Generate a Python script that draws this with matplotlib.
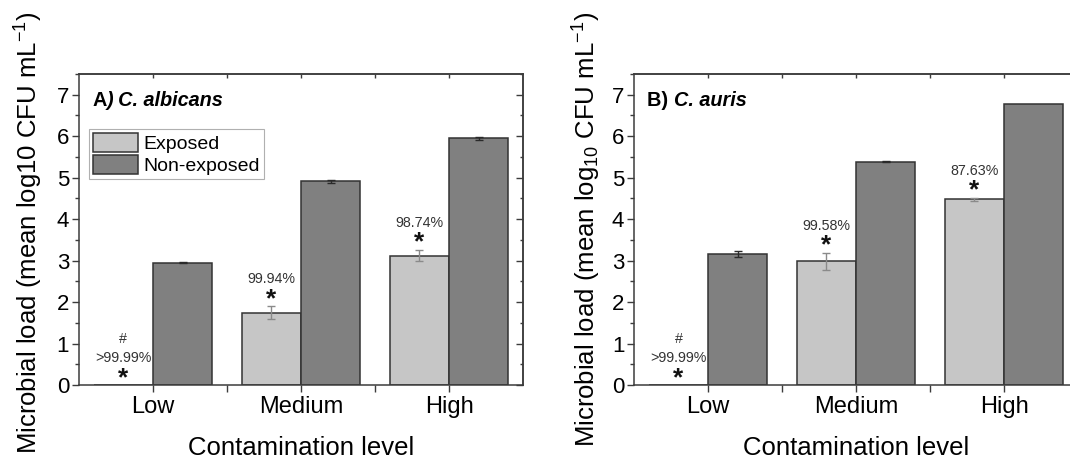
import matplotlib
matplotlib.use("Agg")
import matplotlib.pyplot as plt
import numpy as np
from matplotlib.ticker import AutoMinorLocator
from matplotlib.offsetbox import TextArea, HPacker, AnchoredOffsetbox

plt.rcParams['font.family'] = ['Liberation Sans', 'DejaVu Sans']
plt.rcParams['mathtext.fontset'] = 'custom'
plt.rcParams['mathtext.rm'] = 'Liberation Sans'
plt.rcParams['mathtext.it'] = 'Liberation Sans:italic'
plt.rcParams['mathtext.bf'] = 'Liberation Sans:bold'

# ===== data =====
levels = ["Low", "Medium", "High"]
series_names = ["Exposed", "Non-exposed"]

albicans_exposed = [0.0, 1.74, 3.12]
albicans_exposed_err = [0.0, 0.16, 0.14]
albicans_nonexp = [2.95, 4.91, 5.95]
albicans_nonexp_err = [0.01, 0.03, 0.04]
albicans_pct = [">99.99%", "99.94%", "98.74%"]
albicans_hash = [True, False, False]

auris_exposed = [0.0, 2.98, 4.48]
auris_exposed_err = [0.0, 0.21, 0.04]
auris_nonexp = [3.16, 5.38, 6.78]
auris_nonexp_err = [0.08, 0.01, 0.0]
auris_pct = [">99.99%", "99.58%", "87.63%"]
auris_hash = [True, False, False]

# ===== style =====
C_EXP = "#c6c6c6"
C_NON = "#808080"
EDGE = "#333333"
SPINE = "#3c3c3c"
BAR_W = 0.4
PX = 72 / 100  # points per pixel at dpi 100


def draw_panel(ax, exposed, exp_err, nonexp, non_err, pct, hashes,
               title_parts, ylabel, ylab_pos, legend=False):
    x = np.arange(len(levels))
    b1 = ax.bar(x - BAR_W / 2, exposed, BAR_W, color=C_EXP, edgecolor=EDGE,
                linewidth=1.1, label=series_names[0], zorder=2)
    b2 = ax.bar(x + BAR_W / 2, nonexp, BAR_W, color=C_NON, edgecolor=EDGE,
                linewidth=1.1, label=series_names[1], zorder=2)

    e = np.array(exp_err)
    m = e > 0
    ax.errorbar((x - BAR_W / 2)[m], np.array(exposed)[m], yerr=e[m], fmt="none",
                ecolor="#8a8a8a", elinewidth=1, capsize=3, capthick=1, zorder=3)
    e = np.array(non_err)
    m = e > 0
    ax.errorbar((x + BAR_W / 2)[m], np.array(nonexp)[m], yerr=e[m], fmt="none",
                ecolor="#2a2a2a", elinewidth=1, capsize=3, capthick=1, zorder=3)

    # significance marks above exposed bars
    for i in range(len(levels)):
        top = exposed[i] + exp_err[i]
        xi = x[i] - BAR_W / 2
        ax.annotate("*", (xi, top), xytext=(0, 0), textcoords="offset points",
                    ha="center", va="baseline", fontsize=19, fontweight="bold",
                    color="#111111")
        ax.annotate(pct[i], (xi, top), xytext=(0, 23 * PX), textcoords="offset points",
                    ha="center", va="baseline", fontsize=10.3, color="#333333")
        if hashes[i]:
            ax.annotate("#", (xi, top), xytext=(0, 42 * PX), textcoords="offset points",
                        ha="center", va="baseline", fontsize=10.3, color="#333333")

    ax.set_xlim(-0.5, len(levels) - 0.5)
    ax.set_ylim(0, 7.5)
    ax.set_xticks(x)
    ax.set_xticklabels(levels, fontsize=17)
    ax.set_xticks([0.5, 1.5], minor=True)
    ax.set_yticks(range(0, 8))
    ax.yaxis.set_minor_locator(AutoMinorLocator(2))
    ax.tick_params(axis="y", labelsize=16)
    ax.tick_params(which="major", direction="out", length=5, width=1, color=SPINE, pad=2)
    ax.tick_params(which="minor", direction="out", length=3, width=1, color=SPINE)
    ax.tick_params(axis="x", which="both", length=5, pad=3)

    for s in ax.spines.values():
        s.set_color(SPINE)
        s.set_linewidth(1.1)

    top_ax = ax.secondary_xaxis("top")
    top_ax.set_xticks(x)
    top_ax.set_xticks([0.5, 1.5], minor=True)
    top_ax.tick_params(which="both", direction="in", length=3, width=1,
                       color=SPINE, labeltop=False)
    top_ax.spines["top"].set_color(SPINE)
    top_ax.spines["top"].set_linewidth(1.1)
    right_ax = ax.secondary_yaxis("right")
    right_ax.set_yticks(range(0, 8))
    right_ax.yaxis.set_minor_locator(AutoMinorLocator(2))
    right_ax.tick_params(which="major", direction="in", length=5, width=1,
                         color=SPINE, labelright=False)
    right_ax.tick_params(which="minor", direction="in", length=2.5, width=1,
                         color=SPINE)
    right_ax.spines["right"].set_color(SPINE)
    right_ax.spines["right"].set_linewidth(1.1)

    ax.set_xlabel("Contamination level", fontsize=18.5)
    ax.xaxis.set_label_coords(0.5, -0.164)
    ax.set_ylabel(ylabel, fontsize=18.5)
    ax.yaxis.set_label_coords(*ylab_pos)

    parts = [TextArea(t, textprops=dict(fontsize=14.3, fontweight="bold",
                                        fontstyle="italic" if it else "normal"))
             for t, it in title_parts]
    box = HPacker(children=parts, align="baseline", pad=0, sep=0)
    anch = AnchoredOffsetbox(loc="center left", child=box, pad=0, borderpad=0,
                             frameon=False, bbox_to_anchor=(0.03, 0.916),
                             bbox_transform=ax.transAxes)
    ax.add_artist(anch)

    if legend:
        leg = ax.legend(handles=[b1, b2], loc="upper left",
                        bbox_to_anchor=(0.023, 0.823), borderaxespad=0,
                        fancybox=False, framealpha=1, edgecolor="#b0b0b0",
                        fontsize=14, handlelength=2.3, handleheight=1.1,
                        labelspacing=0.12, handletextpad=0.3, borderpad=0.2)
        leg.get_frame().set_linewidth(0.8)


fig = plt.figure(figsize=(10.7, 4.61), dpi=100)
ax1 = fig.add_axes([0.0738, 0.1649, 0.415, 0.6746])
ax2 = fig.add_axes([0.5925, 0.1649, 0.415, 0.6746])

draw_panel(ax1, albicans_exposed, albicans_exposed_err, albicans_nonexp,
           albicans_nonexp_err, albicans_pct, albicans_hash,
           [("A", False), (") C. albicans", True)],
           "Microbial load (mean log10 CFU mL$^{\\mathrm{-1}}$)", (-0.077, 0.49),
           legend=True)
draw_panel(ax2, auris_exposed, auris_exposed_err, auris_nonexp,
           auris_nonexp_err, auris_pct, auris_hash,
           [("B) ", False), ("C. auris", True)],
           "Microbial load (mean log$_{\\mathrm{10}}$ CFU mL$^{\\mathrm{-1}}$)",
           (-0.069, 0.5))

fig.savefig("out.png", dpi=100)
